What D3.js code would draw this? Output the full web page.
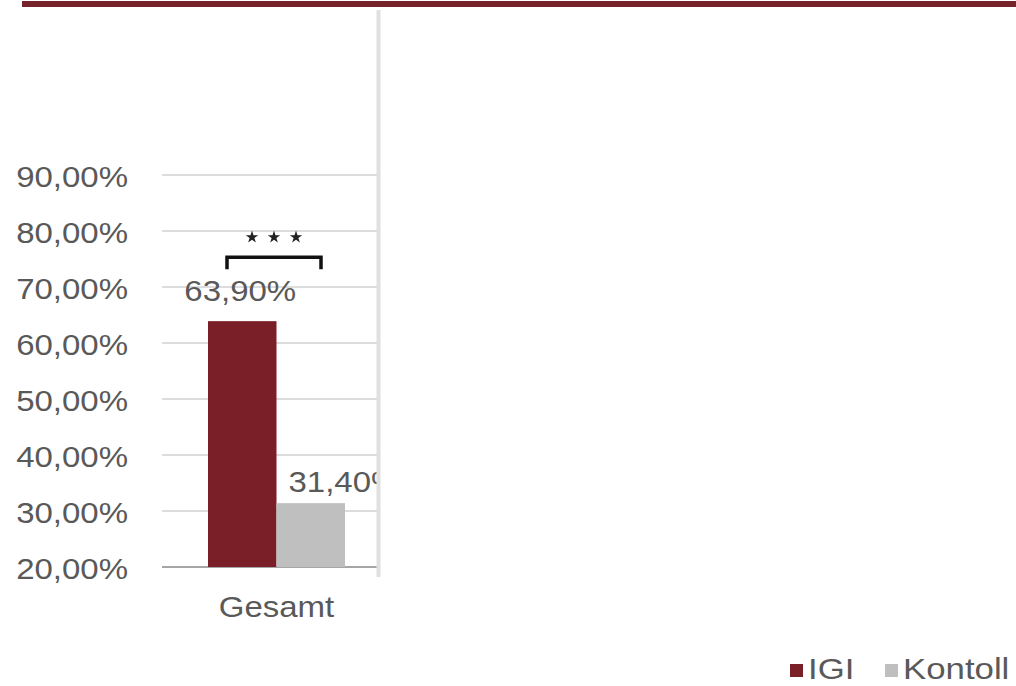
<!DOCTYPE html>
<html>
<head>
<meta charset="utf-8">
<script src="https://cdn.jsdelivr.net/npm/d3@7"></script>
<style>
  html, body { margin: 0; padding: 0; background: #ffffff; }
  svg { display: block; }
  text { font-family: "Liberation Sans", Arial, sans-serif; }
</style>
</head>
<body>
<script>
// ---- data ----
const categories = ["Gesamt"];
const seriesNames = ["IGI", "Kontoll"];
const igiValues = [63.9];
const kontrollValues = [31.4];
const valueLabels = [["63,90%"], ["31,40%"]];
const yTicks = [20, 30, 40, 50, 60, 70, 80, 90];
const yTickLabels = ["20,00%", "30,00%", "40,00%", "50,00%", "60,00%", "70,00%", "80,00%", "90,00%"];
const significance = "***";

const seriesValues = [igiValues, kontrollValues];
const colors = ["#7a1f27", "#bfbfbf"];

const W = 1016, H = 686;
const svg = d3.select("body").append("svg").attr("width", W).attr("height", H);

// top decorative bar
svg.append("rect").attr("x", 22).attr("y", 1).attr("width", W - 22).attr("height", 6).attr("fill", "#76232b");

const plotLeft = 162, plotRight = 379;
const y = d3.scaleLinear().domain([20, 90]).range([567, 175]);
const x0 = d3.scaleBand().domain(categories).range([208, 345]).padding(0);
const x1 = d3.scaleBand().domain(seriesNames).range([0, x0.bandwidth()]).padding(0);

const STRETCH = 1.1;

// clip for plot area (chart is cut at the divider)
svg.append("defs").append("clipPath").attr("id", "plotclip")
  .append("rect").attr("x", 0).attr("y", 0).attr("width", 378).attr("height", H);

// gridlines
const grid = svg.append("g");
grid.selectAll("line").data(yTicks).join("line")
  .attr("x1", plotLeft).attr("x2", plotRight)
  .attr("y1", d => y(d)).attr("y2", d => y(d))
  .attr("stroke", d => d === 20 ? "#a6a6a6" : "#d0d0d0")
  .attr("stroke-width", d => d === 20 ? 2 : 1.5);

// y axis labels
const yAxis = d3.axisLeft(y).tickValues(yTicks)
  .tickFormat((d, i) => yTickLabels[i]).tickSize(0).tickPadding(0);
const ag = svg.append("g").attr("transform", `translate(${plotLeft},0)`).call(yAxis);
ag.select(".domain").remove();
ag.selectAll(".tick text")
  .attr("x", 0).attr("dy", "0.37em")
  .attr("transform", `translate(-34,0) scale(${STRETCH},1)`)
  .attr("fill", "#595959").style("font-size", "30px")
  .style("font-family", "'Liberation Sans', Arial, sans-serif");

// bars
const plot = svg.append("g").attr("clip-path", "url(#plotclip)");
categories.forEach((cat, ci) => {
  seriesNames.forEach((s, si) => {
    const v = seriesValues[si][ci];
    plot.append("rect")
      .attr("x", x0(cat) + x1(s))
      .attr("y", y(v))
      .attr("width", x1.bandwidth())
      .attr("height", y(20) - y(v))
      .attr("fill", colors[si]);
  });
  // value labels
  const igiCx = x0(cat) + x1("IGI") + x1.bandwidth() / 2;
  plot.append("text")
    .attr("transform", `translate(${igiCx - 2},${y(igiValues[ci]) - 20}) scale(${STRETCH},1)`)
    .attr("text-anchor", "middle").attr("fill", "#595959").style("font-size", "30px")
    .text(valueLabels[0][ci]);
  const kx = x0(cat) + x1("Kontoll");
  plot.append("text")
    .attr("transform", `translate(${kx + 12},${y(kontrollValues[ci]) - 11}) scale(${STRETCH},1)`)
    .attr("text-anchor", "start").attr("fill", "#595959").style("font-size", "30px")
    .text(valueLabels[1][ci]);

  // category label
  svg.append("text")
    .attr("transform", `translate(${x0(cat) + x0.bandwidth() / 2},617) scale(${STRETCH},1)`)
    .attr("text-anchor", "middle").attr("fill", "#595959").style("font-size", "30px")
    .text(cat);

  // significance bracket
  const bx1 = x0(cat) + 19, bx2 = x0(cat) + x0.bandwidth() - 24;
  const by = y(igiValues[ci]) - 64;
  svg.append("path")
    .attr("d", `M${bx1},${by + 12}V${by}H${bx2}V${by + 12}`)
    .attr("fill", "none").attr("stroke", "#111").attr("stroke-width", 3.5);
  const stars = significance.split("");
  const cx = (bx1 + bx2) / 2;
  stars.forEach((st, k) => {
    svg.append("path")
      .attr("d", d3.symbol(d3.symbolStar, 48)())
      .attr("transform", `translate(${cx + (k - 1) * 22},${by - 20})`)
      .attr("fill", "#222");
  });
});

// divider line
svg.append("rect").attr("x", 376.5).attr("y", 10).attr("width", 4).attr("height", 567).attr("fill", "#e0e0e0");

// legend
const legendPos = [790, 885];
seriesNames.forEach((s, i) => {
  svg.append("rect").attr("x", legendPos[i]).attr("y", 664).attr("width", 13).attr("height", 13).attr("fill", colors[i]);
  svg.append("text")
    .attr("transform", `translate(${legendPos[i] + 18},679) scale(1.16,1)`)
    .attr("fill", "#595959").style("font-size", "30px")
    .text(s);
});
</script>
</body>
</html>
